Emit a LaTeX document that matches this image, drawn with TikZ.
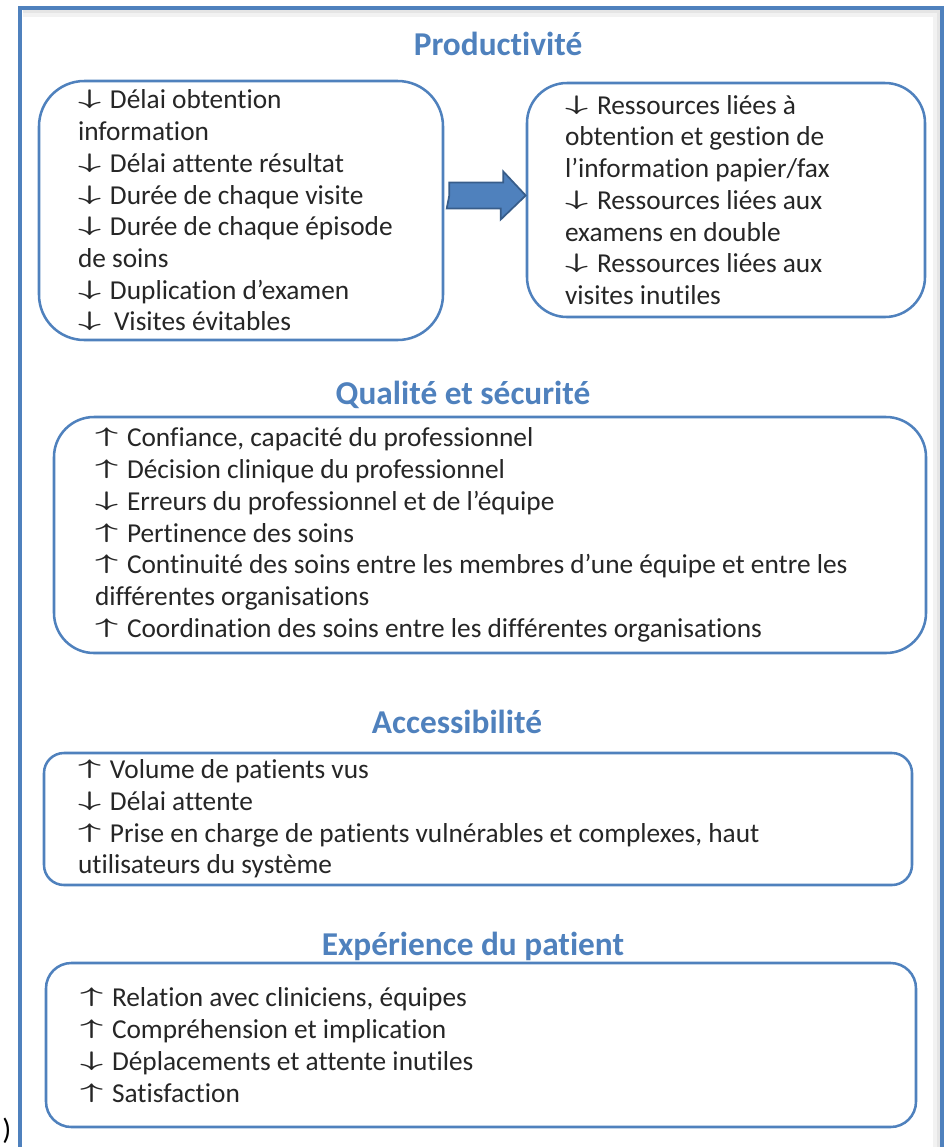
\documentclass[tikz,border=0pt]{standalone}
\usepackage{fontspec}
\usepackage{graphicx}
\setmainfont{Carlito}[Ligatures=NoCommon]
\usetikzlibrary{positioning,calc}
\definecolor{cadre}{RGB}{79,129,189}
\definecolor{cadrefonce}{RGB}{56,93,138}
\newcommand{\fbas}{\makebox[24pt][l]{\raisebox{3pt}{\scalebox{1.45}[0.76]{\boldmath$\downarrow$}}}}
\newcommand{\fhaut}{\makebox[24pt][l]{\raisebox{3pt}{\scalebox{1.45}[0.76]{\boldmath$\uparrow$}}}}

\begin{document}
\begin{tikzpicture}[x=0.75pt,y=-0.75pt,
    titre/.style={text=cadre,font=\fontsize{25}{30}\selectfont\bfseries,inner sep=0pt},
    boite/.style={draw=cadre,line width=1.9pt,fill=white,align=flush left,
        text=black!85,font=\fontsize{20.5}{23.8}\selectfont,inner ysep=0pt},
    fleche/.style={fill=cadre,draw=cadrefonce,line width=1.3pt,line join=miter}]
    \useasboundingbox (0,0) rectangle (946,1147);
    % cadre et ombre
    \draw[black!10,line width=3pt] (23,12) -- (938,12) -- (938,1150);
    \draw[black!5,line width=3pt] (23,15) -- (935,15) -- (935,1150);
    \draw[cadre,line width=2.3pt] (20,1150) -- (20,8) -- (942,8) -- (942,1150);
    \node[font=\fontsize{22}{26}\selectfont,anchor=base west,inner sep=0pt] (paren) at (2,1139) {)};
    % productivite
    \node[titre] (tprod) at (498,44) {Productivité};
    \node[boite,rounded corners=34pt,text width=244.5pt,inner xsep=29.25pt,minimum height=194.25pt] (prod) at (241,210.5)
        {\fbas Délai obtention\\ information\\ \fbas Délai attente résultat\\ \fbas Durée de chaque visite\\
         \fbas Durée de chaque épisode\\ de soins\\ \fbas Duplication d’examen\\ \fbas\hspace{3pt}Visites évitables};
    \node[boite,rounded corners=30pt,text width=241.5pt,inner xsep=28.5pt,minimum height=175.5pt] (res) at (726,200)
        {\fbas Ressources liées à\\ obtention et gestion de\\ l’information papier/fax\\ \fbas Ressources liées aux\\
         examens en double\\ \fbas Ressources liées aux\\ visites inutiles};
    \coordinate (fa) at ($(prod.east)+(5,-15)$);
    \draw[fleche] (fa) -- ++(0,-13) -- ++(54,0) -- ++(0,-11) -- (res.west |- fa) -- ++(-25,24) -- ++(0,-11) -- ++(-54,0) -- cycle;
    % qualite
    \node[titre] (tqual) at (463,395) {Qualité et sécurité};
    \node[boite,rounded corners=30pt,text width=592.5pt,inner xsep=30.75pt,minimum height=177pt] (qual) at (490,535)
        {\fhaut Confiance, capacité du professionnel\\ \fhaut Décision clinique du professionnel\\
         \fbas Erreurs du professionnel et de l’équipe\\ \fhaut Pertinence des soins\\
         \fhaut Continuité des soins entre les membres d’une équipe et entre les\\ différentes organisations\\
         \fhaut Coordination des soins entre les différentes organisations};
    % accessibilite
    \node[titre] (tacc) at (457,722) {Accessibilité};
    \node[boite,rounded corners=15pt,text width=600pt,inner xsep=25.5pt,minimum height=99pt] (acc) at (478,819)
        {\fhaut Volume de patients vus\\ \fbas Délai attente\\
         \fhaut Prise en charge de patients vulnérables et complexes, haut\\ utilisateurs du système};
    % experience
    \node[titre] (texp) at (473,946) {Expérience du patient};
    \node[boite,rounded corners=19pt,text width=601.5pt,inner xsep=25.5pt,minimum height=123pt] (exp) at (481,1045)
        {\fhaut Relation avec cliniciens, équipes\\ \fhaut Compréhension et implication\\
         \fbas Déplacements et attente inutiles\\ \fhaut Satisfaction};
\end{tikzpicture}
\end{document}
